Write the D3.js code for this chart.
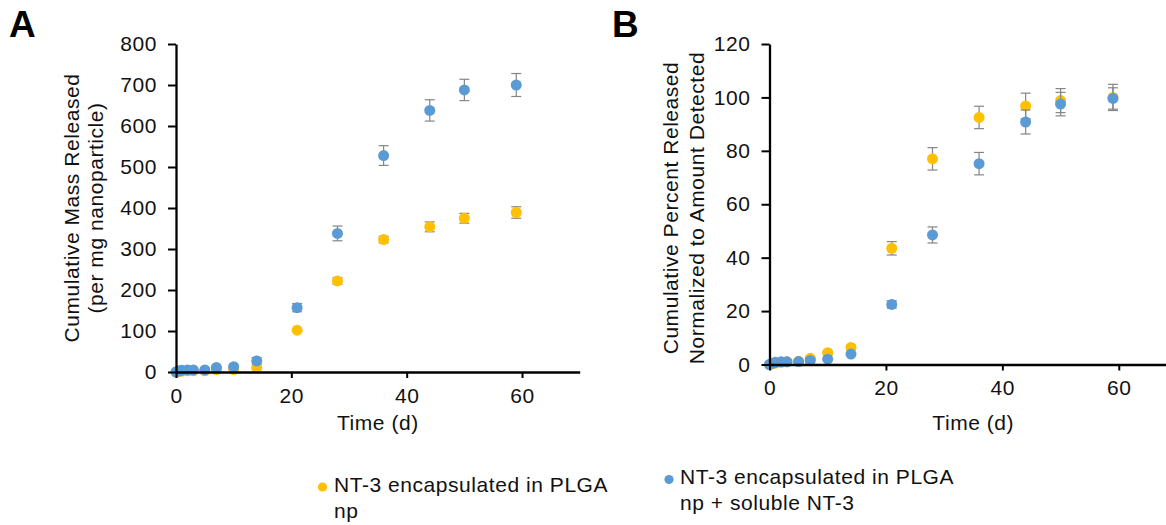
<!DOCTYPE html>
<html>
<head>
<meta charset="utf-8">
<script src="https://cdn.jsdelivr.net/npm/d3@7"></script>
<style>
  html, body { margin: 0; padding: 0; background: #fff; }
  svg { display: block; }
  text { font-family: "Liberation Sans", Arial, sans-serif; }
</style>
</head>
<body>
<svg id="chart" width="1166" height="525"></svg>
<script>
// ---------- data ----------
const days = [0, 0.5, 1, 2, 3, 5, 7, 10, 14, 21, 28, 36, 44, 50, 59];

const massEncap    = [0, 1, 2, 3, 3, 3, 6, 6, 10, 102, 222, 323, 354, 375, 389];
const massEncapErr = [0, 0, 0, 0, 0, 0, 1, 1, 2, 3, 8, 8, 12, 12, 14];
const massSol      = [0, 3, 4, 5, 5, 5, 11, 13, 27, 157, 338, 528, 638, 688, 700];
const massSolErr   = [0, 1, 1, 1, 1, 1, 2, 3, 8, 10, 18, 24, 26, 26, 28];

const pctEncap     = [0, 0.3, 0.5, 0.8, 1, 1.2, 2.3, 4.4, 6.4, 43.5, 77, 92.5, 96.8, 98.8, 100];
const pctEncapErr  = [0, 0, 0, 0, 0, 0, 0.3, 0.5, 0.8, 2.5, 4.2, 4.2, 4.8, 4.5, 4.9];
const pctSol       = [0, 0.5, 0.8, 1, 1, 1.1, 1.5, 2.0, 3.9, 22.5, 48.5, 75.2, 90.8, 97.5, 99.6];
const pctSolErr    = [0, 0, 0, 0, 0, 0, 0.2, 0.3, 0.5, 1.4, 3, 4.2, 4.5, 4.4, 4];

const xTicks = [0, 20, 40, 60];
const yTicksA = [0, 100, 200, 300, 400, 500, 600, 700, 800];
const yTicksB = [0, 20, 40, 60, 80, 100, 120];

const seriesNames = ["NT-3 encapsulated in PLGA np", "NT-3 encapsulated in PLGA np + soluble NT-3"];
const colors = ["#FFC000", "#5B9BD5"];

// ---------- drawing ----------
const svg = d3.select("#chart");
svg.append("rect").attr("width", 1166).attr("height", 525).attr("fill", "#fff");

const FS = 21, LS = "0.55px";

function panel(opts) {
  const g = svg.append("g");
  const x = d3.scaleLinear().domain([0, 70]).range(opts.xr);
  const y = d3.scaleLinear().domain(opts.yd).range(opts.yr);

  // series
  opts.series.forEach((s, si) => {
    const pts = days.map((d, i) => ({ d, v: s.v[i], e: s.e[i] }));
    const eg = g.append("g");
    pts.filter(p => p.e > 0).forEach(p => {
      const cx = x(p.d), y1 = y(p.v + p.e), y2 = y(p.v - p.e);
      eg.append("line").attr("x1", cx).attr("x2", cx).attr("y1", y1).attr("y2", y2)
        .attr("stroke", "#858585").attr("stroke-width", 1.2);
      [y1, y2].forEach(yy => eg.append("line").attr("x1", cx - 5).attr("x2", cx + 5)
        .attr("y1", yy).attr("y2", yy).attr("stroke", "#858585").attr("stroke-width", 1.2));
    });
    g.append("g").selectAll("circle").data(pts).join("circle")
      .attr("cx", p => x(p.d)).attr("cy", p => y(p.v)).attr("r", 5.5)
      .attr("fill", colors[si]);
  });

  // axes
  const xa = g.append("g").attr("transform", `translate(0,${opts.yr[0]})`)
    .call(d3.axisBottom(x).tickValues(xTicks).tickSize(6).tickPadding(10).tickSizeOuter(0));
  const ya = g.append("g").attr("transform", `translate(${opts.xr[0]},0)`)
    .call(d3.axisLeft(y).tickValues(opts.yTicks).tickSize(8).tickPadding(11).tickSizeOuter(0));
  [xa, ya].forEach(a => {
    a.select(".domain").attr("stroke", "#000").attr("stroke-width", 2.3);
    a.selectAll(".tick line").attr("stroke", "#000").attr("stroke-width", 2);
    a.selectAll(".tick text").attr("font-size", FS).attr("fill", "#111")
      .style("letter-spacing", LS).attr("font-family", "Liberation Sans, Arial, sans-serif");
  });

  // x title
  g.append("text").attr("x", x(35)).attr("y", 430).attr("text-anchor", "middle")
    .attr("font-size", FS).style("letter-spacing", LS).attr("fill", "#111").text("Time (d)");
  // y title
  opts.yTitle.forEach((t, i) => {
    g.append("text").attr("transform", `translate(${opts.yTitleX[i]},${opts.yTitleY}) rotate(-90)`)
      .attr("text-anchor", "middle").attr("font-size", FS).style("letter-spacing", LS)
      .attr("fill", "#111").text(t);
  });
  // panel letter
  svg.append("text").attr("x", opts.letterX).attr("y", 37).attr("font-size", 37)
    .attr("font-weight", "bold").attr("fill", "#000").text(opts.letter);
}

panel({
  xr: [176, 579.7], yd: [0, 800], yr: [372, 44], yTicks: yTicksA,
  series: [{ v: massEncap, e: massEncapErr }, { v: massSol, e: massSolErr }],
  yTitle: ["Cumulative Mass Released", "(per mg nanoparticle)"],
  yTitleX: [79, 103], yTitleY: 208, letter: "A", letterX: 9
});
panel({
  xr: [769.5, 1177], yd: [0, 120], yr: [364.5, 44], yTicks: yTicksB,
  series: [{ v: pctEncap, e: pctEncapErr }, { v: pctSol, e: pctSolErr }],
  yTitle: ["Cumulative Percent Released", "Normalized to Amount Detected"],
  yTitleX: [678, 704], yTitleY: 208, letter: "B", letterX: 612
});

// legend
const legend = [
  { name: seriesNames[0], lines: ["NT-3 encapsulated in PLGA", "np"], dx: 322.5, dy: 487, tx: 334, ty: 492 },
  { name: seriesNames[1], lines: ["NT-3 encapsulated in PLGA", "np + soluble NT-3"], dx: 669, dy: 479.5, tx: 680, ty: 484 }
];
legend.forEach((l, i) => {
  svg.append("circle").attr("cx", l.dx).attr("cy", l.dy).attr("r", 4.6).attr("fill", colors[i]);
  l.lines.forEach((t, j) => svg.append("text").attr("x", l.tx).attr("y", l.ty + j * 26)
    .attr("font-size", FS).style("letter-spacing", LS).attr("fill", "#111").text(t));
});
</script>
</body>
</html>
